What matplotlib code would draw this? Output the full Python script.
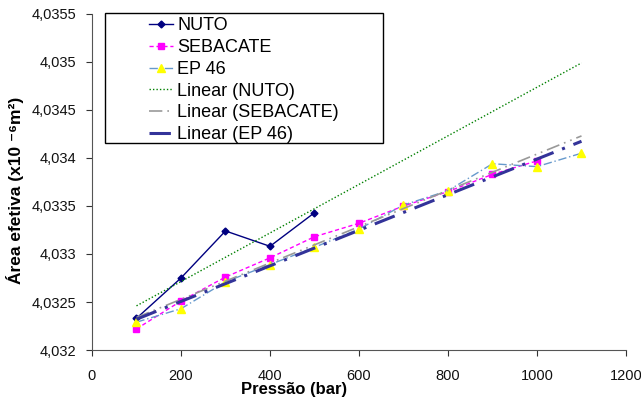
import numpy as np
import matplotlib
matplotlib.use("Agg")
import matplotlib.pyplot as plt
from matplotlib.ticker import FuncFormatter, MultipleLocator
from matplotlib.patches import Rectangle

plt.rcParams['font.family'] = ['Liberation Sans', 'DejaVu Sans']

# pressure (bar)
p_nuto = [100, 200, 300, 400, 500]
p_seb = [100, 200, 300, 400, 500, 600, 700, 800, 900, 1000]
p_ep = [100, 200, 300, 400, 500, 600, 700, 800, 900, 1000, 1100]

# effective area (x10^-6 m^2)
a_nuto = [4.03233, 4.03275, 4.03324, 4.03308, 4.03343]
a_seb = [4.03222, 4.03251, 4.03276, 4.03296, 4.03318, 4.03332,
         4.03350, 4.03365, 4.03383, 4.03397]
a_ep = [4.03229, 4.03243, 4.03271, 4.03289, 4.03307, 4.03326,
        4.03351, 4.03366, 4.03394, 4.03391, 4.03405]

x_trend = np.array([100, 1100])

fig = plt.figure(figsize=(6.41, 4.03), dpi=100)
ax = fig.add_axes([0.1435, 0.1315, 0.8331, 0.8338])

ax.plot(p_nuto, a_nuto, color='#000080', lw=1, marker='D', ms=3.5,
        label='NUTO')
ax.plot(p_seb, a_seb, color='#FF00FF', lw=1, ls=(0, (3, 2)), marker='s',
        ms=5, label='SEBACATE')
ax.plot(p_ep, a_ep, color='#6699CC', lw=1, ls=(0, (6, 2, 1, 2)), marker='^',
        ms=5.5, mfc='#FFFF00', mec='#FFFF00', label='EP 46')

c = np.polyfit(p_nuto, a_nuto, 1)
ax.plot(x_trend, np.polyval(c, x_trend), color='#008000', lw=1,
        ls=(0, (1, 1.5)), label='Linear (NUTO)')
c = np.polyfit(p_seb, a_seb, 1)
ax.plot(x_trend, np.polyval(c, x_trend), color='#999999', lw=1.2,
        ls=(0, (8, 3, 1, 3, 1, 3)), label='Linear (SEBACATE)')
c = np.polyfit(p_ep, a_ep, 1)
ax.plot(x_trend, np.polyval(c, x_trend), color='#333399', lw=2.2,
        ls=(0, (7, 3, 1, 3)), label='Linear (EP 46)')

ax.set_xlim(0, 1200)
ax.set_ylim(4.032, 4.0355)
ax.xaxis.set_major_locator(MultipleLocator(200))
ax.yaxis.set_major_locator(MultipleLocator(0.0005))
ax.yaxis.set_major_formatter(FuncFormatter(
    lambda v, pos: f"{v:.4f}".rstrip('0').rstrip('.').replace('.', ',')))

for s in ['top', 'right']:
    ax.spines[s].set_visible(False)
for s in ['left', 'bottom']:
    ax.spines[s].set_color('#555555')
ax.tick_params(direction='out', length=4, color='#333333', labelsize=10.5,
               labelcolor='#111111')
ax.tick_params(axis='x', pad=10)
ax.tick_params(axis='y', pad=7)

ax.set_xlabel('Pressão (bar)', fontsize=12, fontweight='bold')
ax.xaxis.set_label_coords((294 - 92) / 534, -0.095)
ax.set_ylabel('Área efetiva (x10 ⁻⁶m²)', fontsize=12.5, fontweight='bold')
ax.yaxis.set_label_coords(-0.128, 0.475)

# legend box like the original (handles indented inside the frame)
fig.patches.append(Rectangle((105 / 641, 1 - 143 / 403), 278 / 641, 130 / 403,
                             transform=fig.transFigure, fill=False,
                             edgecolor='black', lw=1))
leg = fig.legend(loc='upper left', bbox_to_anchor=(135 / 641, 1 - 3 / 403),
                 frameon=False, fontsize=13, handlelength=1.3,
                 handletextpad=0.25, labelspacing=0.26, borderpad=0.3)

fig.savefig('out.png', dpi=100)
